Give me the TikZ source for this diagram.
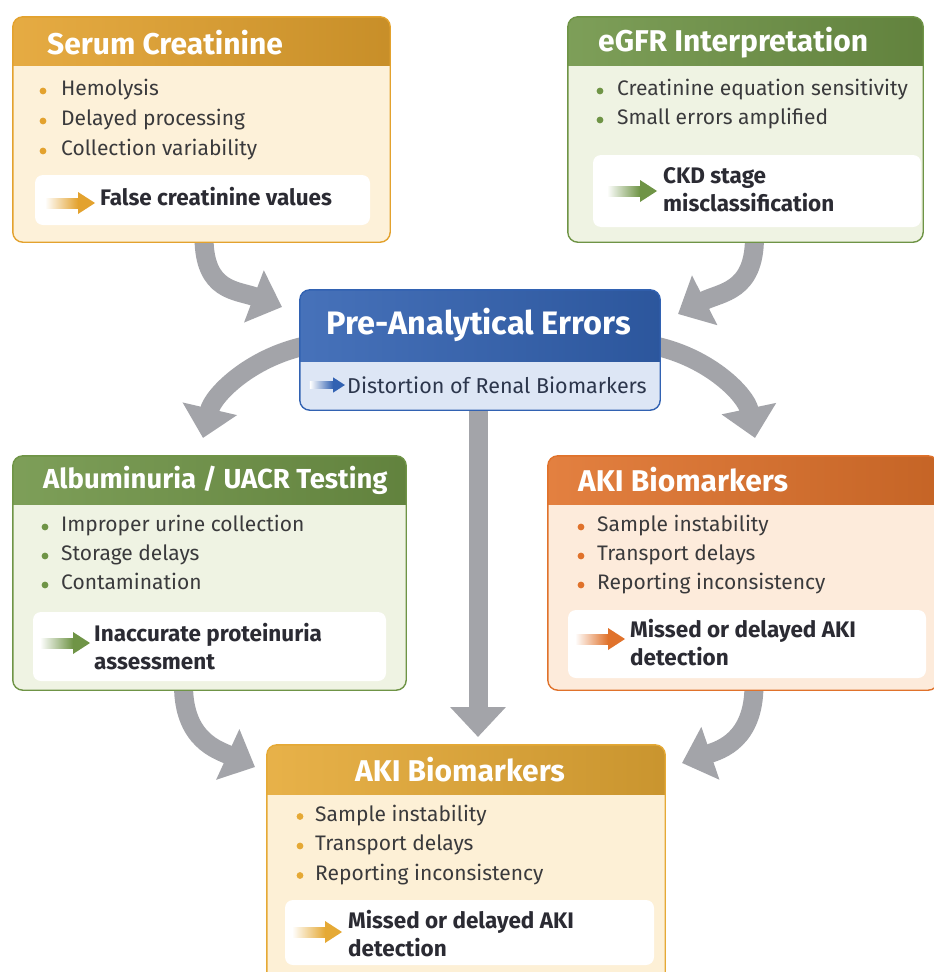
\documentclass[tikz,border=0pt]{standalone}
\usepackage{fontspec}
\setmainfont{Fira Sans}
\usetikzlibrary{arrows.meta,backgrounds,positioning}

\definecolor{sgold}{HTML}{E3A22E}
\definecolor{sgoldbg}{HTML}{FDF1D9}
\definecolor{leaf}{HTML}{6F9446}
\definecolor{leafbg}{HTML}{EFF3E3}
\definecolor{royal}{HTML}{3262B2}
\definecolor{royalbg}{HTML}{DDE6F5}
\definecolor{rust}{HTML}{E0722B}
\definecolor{rustbg}{HTML}{FDEBDB}
\definecolor{amber}{HTML}{E5A935}
\definecolor{amberbg}{HTML}{FDF0D6}
\definecolor{flowgray}{HTML}{A3A4A9}
\definecolor{ink}{HTML}{3A3A3C}
\definecolor{inkdark}{HTML}{2B2B33}

\tikzset{
title/.style={text=white,font=\fontsize{30}{36}\selectfont\bfseries,inner sep=0pt},
item/.style={text=ink,font=\fontsize{21}{25}\selectfont,anchor=west,inner sep=0pt,
  text height=14pt,text depth=5pt},
outcome/.style={text=inkdark,font=\fontsize{22.5}{28}\selectfont\bfseries,align=left,anchor=west,inner sep=0pt},
outbox/.style={fill=white,rounded corners=8pt},
flow/.style={draw=flowgray,line width=19pt,-{Triangle[width=54pt,length=30pt]}},
pics/tip/.style={code={
  \shade[left color=white,right color=#1](-33,-5)rectangle(0,5);
  \fill[#1](0,-11)--(17,0)--(0,11)--cycle;}}
}

% box with a coloured header band: name, x1, y1, x2, y2, colour, body colour, band height
\newcommand\panel[8]{%
\node[fill=#7,rounded corners=10pt,inner sep=0pt,minimum width={(#4-#2)*1pt},minimum height={(#5-#3)*1pt}](#1)at({(#2+#4)/2},{(#3+#5)/2}){};
\begin{scope}
\clip[rounded corners=10pt](#1.north west)rectangle(#1.south east);
\shade[left color=#6!90!white,right color=#6!88!black](#1.north west)rectangle([yshift=-#8pt]#1.north east);
\end{scope}
\draw[#6,line width=1.4pt,rounded corners=10pt](#1.north west)rectangle(#1.south east);}

\begin{document}
\begin{tikzpicture}[x=1pt,y=-1pt]
\useasboundingbox(0,0)rectangle(934,972);
\panel{serum}{13}{17}{390}{242}{sgold}{sgoldbg}{49}
\panel{egfr}{568}{17}{923}{242}{leaf}{leafbg}{49}
\panel{pre}{300}{290}{660}{410}{royal}{royalbg}{72}
\panel{albu}{13}{456}{406}{690}{leaf}{leafbg}{49}
\panel{akir}{548}{456}{938}{690}{rust}{rustbg}{49}
\panel{akib}{267}{745}{665}{985}{amber}{amberbg}{50}

% headers
\node[title,anchor=west](serum-t)at(47,43){Serum Creatinine};
\node[title,anchor=west](egfr-t)at(598,43){eGFR Interpretation};
\node[title,font=\fontsize{32.5}{38}\selectfont\bfseries](pre-t)at(479,325){Pre-Analytical Errors};
\node[title,anchor=west,font=\fontsize{27.5}{33}\selectfont\bfseries](albu-t)at(43,480){Albuminuria / UACR Testing};
\node[title,anchor=west](akir-t)at(578,480){AKI Biomarkers};
\node[title](akib-t)at(460,770){AKI Biomarkers};

% bullet lists
\foreach \t[count=\i] in {Hemolysis,Delayed processing,Collection variability}{
  \node[item](serum-\i)at(61,61+30*\i){\t};
  \fill[sgold]([xshift=-18pt]serum-\i.west)circle(3.4);}
\foreach \t[count=\i] in {Creatinine equation sensitivity,Small errors amplified}{
  \node[item](egfr-\i)at(617,62+29*\i){\t};
  \fill[leaf]([xshift=-17pt]egfr-\i.west)circle(3.4);}
\foreach \t[count=\i] in {Improper urine collection,Storage delays,Contamination}{
  \node[item](albu-\i)at(61,498+29*\i){\t};
  \fill[leaf]([xshift=-16pt]albu-\i.west)circle(3.4);}
\foreach \t[count=\i] in {Sample instability,Transport delays,Reporting inconsistency}{
  \node[item](akir-\i)at(597,498+29*\i){\t};
  \fill[rust]([xshift=-16pt]akir-\i.west)circle(3.4);}
\foreach \t[count=\i] in {Sample instability,Transport delays,Reporting inconsistency}{
  \node[item](akib-\i)at(315,787+29.5*\i){\t};
  \fill[amber]([xshift=-15pt]akib-\i.west)circle(3.4);}

% outcomes
\fill[outbox](35,175)rectangle(370,225);
\pic at(78,203){tip=sgold};
\node[outcome](serum-o)at(100,197){False creatinine values};
\fill[outbox](593,155)rectangle(921,227);
\pic at(640,191){tip=leaf};
\node[outcome](egfr-o)at(663,190){CKD stage\\misclassification};
\fill[outbox](33,612)rectangle(386,681);
\pic at(73,643){tip=leaf};
\node[outcome](albu-o)at(94,647){Inaccurate proteinuria\\assessment};
\fill[outbox](568,610)rectangle(926,678);
\pic at(608,639){tip=rust};
\node[outcome](akir-o)at(630,643){Missed or delayed AKI\\detection};
\fill[outbox](285,900)rectangle(654,965);
\pic at(325,932){tip=amber};
\node[outcome](akib-o)at(348,933.5){Missed or delayed AKI\\detection};
\pic[scale=.7]at(333,385){tip=royal};
\node[anchor=west,text=inkdark!80!royal,font=\fontsize{21.5}{26}\selectfont,inner sep=0pt](pre-s)at(347,385){Distortion of Renal Biomarkers};

% grey flow arrows behind the boxes
\begin{scope}[on background layer]
\fill[white](0,0)rectangle(934,972);
\coordinate(in-l)at(282,307);
\coordinate(in-r)at(678,314);
\coordinate(out-l)at(203,438);
\coordinate(out-r)at(755,438);
\coordinate(down)at(478,737);
\coordinate(in-bl)at(255,767);
\coordinate(in-br)at(682,763);
\draw[flow]([xshift=2.5pt,yshift=5pt]serum.south)..controls+(0,55)and(237,290)..(in-l);
\draw[flow]([xshift=9pt,yshift=5pt]egfr.south)..controls+(0,55)and(721,292)..(in-r);
\draw[flow]([xshift=5pt,yshift=4pt]pre.west)..controls(250,358)and(213,395)..(out-l);
\draw[flow]([xshift=-5pt,yshift=4pt]pre.east)..controls(710,358)and(746,395)..(out-r);
\draw[flow]([xshift=-2pt,yshift=5pt]pre.south)--(down);
\draw[flow]([xshift=-26pt,yshift=5pt]albu.south)..controls+(0,55)and(218,750)..(in-bl);
\draw[flow]([xshift=11pt,yshift=5pt]akir.south)..controls+(0,55)and(720,750)..(in-br);
\end{scope}
\end{tikzpicture}
\end{document}
